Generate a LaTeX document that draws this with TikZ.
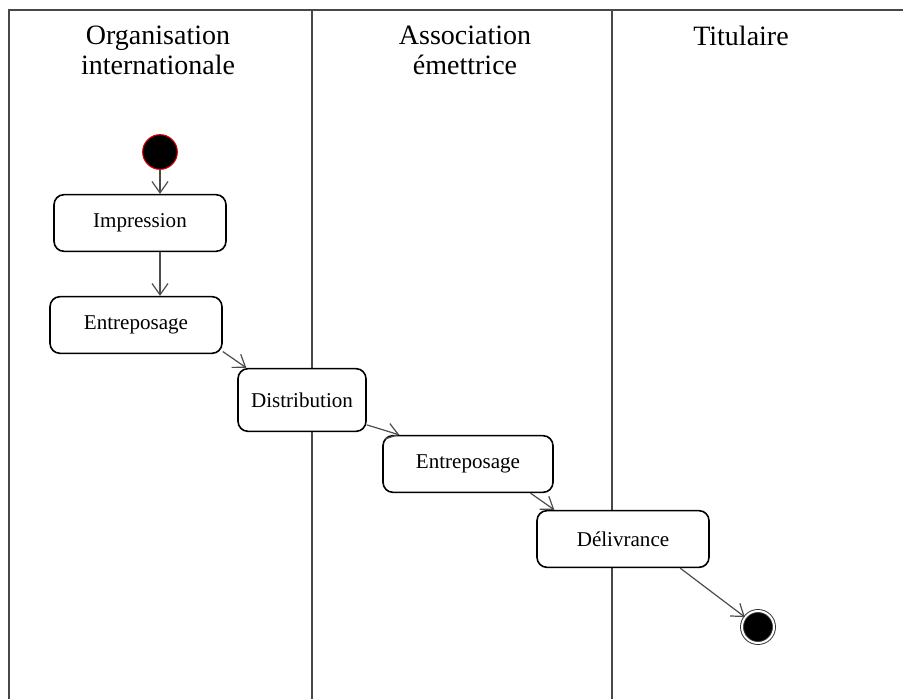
\documentclass[tikz,border=0pt]{standalone}
\usepackage{fontspec}
\setmainfont{Liberation Serif}
\usetikzlibrary{positioning}
\usetikzlibrary{arrows.meta}
\usetikzlibrary{shapes.geometric}

\begin{document}
\begin{tikzpicture}[x=0.75pt,y=-0.75pt,
  lane/.style = {line width=1.6pt,draw=black!72},
  title/.style = {anchor=north,align=center,font=\fontsize{21}{22.5}\selectfont},
  start/.style = {circle,minimum size=26pt,inner sep=0pt,fill=black,draw=red!85!black,line width=0.8pt},
  box/.style = {draw,rounded corners=7.5pt,line width=1.2pt,fill=white,align=center,
        minimum width=129pt,minimum height=42.5pt,font=\fontsize{15.8}{18}\selectfont},
  stop/.style = {circle,minimum size=24pt,inner sep=0pt,fill=black,draw=black!80,
        double=white,double distance=1.5pt,line width=0.7pt}]
 \useasboundingbox (0,0) rectangle (903,699);
 % swimlanes
 \draw[lane] (903,10) -- (9,10) -- (9,699);
 \draw[lane] (312,10) -- (312,699);
 \draw[lane] (612,10) -- (612,699);
 \node[title] (t1) at (158,21) {Organisation\\internationale};
 \node[title] (t2) at (465,21) {Association\\émettrice};
 \node[title] (t3) at (741,21) {Titulaire};
 % activities
 \node[start] (s)  at (160,152) {};
 \node[box] (b1) at (140,223) {Impression};
 \node[box] (b2) at (136,325) {Entreposage};
 \node[box,minimum width=96pt,minimum height=47pt] (b3) at (302,400) {Distribution};
 \node[box,minimum width=127.5pt] (b4) at (468,464) {Entreposage};
 \node[box] (b5) at (623,539) {Délivrance};
 \node[stop] (e)  at (758,627) {};
 \begin{scope}[draw=black!70,line width=0.9pt,-{Straight Barb[length=8.5pt,width=12pt]}]
  \draw (s) -- (s |- b1.north);
  \draw (b1.south -| s) -- (b2.north -| s);
  \draw (b2.-17) -- (b3.150);
  \draw (b3.-21) -- (b4.157);
  \draw (b4.-25) -- (b5.157);
  \draw (b5.-27) -- (e);
 \end{scope}
\end{tikzpicture}
\end{document}
